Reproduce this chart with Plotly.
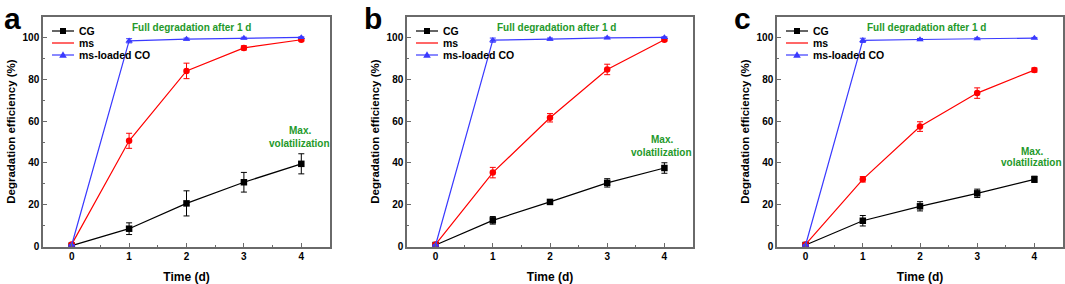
import plotly.graph_objects as go

days = [0, 1, 2, 3, 4]
series_names = ["CG", "ms", "ms-loaded CO"]
panel_labels = ["a", "b", "c"]

# Panel a
a_cg = [0.5, 8.6, 20.7, 30.8, 39.6]
a_cg_err = [0.3, 2.8, 6.0, 4.7, 4.8]
a_ms = [1.1, 50.6, 84.0, 95.0, 98.9]
a_ms_err = [0.3, 3.6, 3.7, 1.0, 0.6]
a_co = [0.8, 98.4, 99.2, 99.7, 100.0]
a_co_err = [0.2, 1.0, 0.5, 0.4, 0.3]

# Panel b
b_cg = [0.8, 12.6, 21.4, 30.5, 37.6]
b_cg_err = [0.3, 1.8, 1.0, 2.0, 2.5]
b_ms = [1.1, 35.4, 61.6, 84.7, 98.9]
b_ms_err = [0.3, 2.5, 2.0, 2.5, 0.6]
b_co = [0.8, 98.7, 99.2, 99.8, 100.0]
b_co_err = [0.2, 1.0, 0.5, 0.4, 0.3]

# Panel c
c_cg = [0.8, 12.4, 19.3, 25.5, 32.2]
c_cg_err = [0.3, 2.5, 2.2, 2.0, 1.5]
c_ms = [1.1, 32.2, 57.4, 73.4, 84.4]
c_ms_err = [0.3, 1.3, 2.3, 2.5, 1.0]
c_co = [0.8, 98.6, 99.0, 99.4, 99.7]
c_co_err = [0.2, 1.0, 0.5, 0.4, 0.3]

panels = [
    [(a_cg, a_cg_err), (a_ms, a_ms_err), (a_co, a_co_err)],
    [(b_cg, b_cg_err), (b_ms, b_ms_err), (b_co, b_co_err)],
    [(c_cg, c_cg_err), (c_ms, c_ms_err), (c_co, c_co_err)],
]

full_text = "Full degradation after 1 d"
full_pos = [(2.08, 104.8), (2.12, 104.8), (2.12, 104.8)]
max_pos = [(3.97, 55.4, 49.5), (3.95, 51.0, 45.0), (3.95, 45.5, 40.0)]

W, H = 1065, 284
colors = ["#000000", "#ff0000", "#3a3aff"]
symbols = ["square", "circle", "triangle-up"]
green = "#24992a"
frame = "#6a6a6a"
FONT = "Liberation Sans, Arial, sans-serif"

x_dom_px = [(43, 330), (407, 693), (777, 1063)]
y_dom = [1 - 246.7 / H, 1 - 16.5 / H]

fig = go.Figure()
layout = dict(
    template="none",
    width=W, height=H,
    margin=dict(l=0, r=0, t=0, b=0),
    paper_bgcolor="white", plot_bgcolor="white",
    font=dict(family=FONT, color="black", size=10, weight="bold"),
    showlegend=False,
    annotations=[], shapes=[],
)

marker_paths = {
    "square": "M-3,-3 L3,-3 L3,3 L-3,3 Z",
    "circle": "M3.3,0 A3.3,3.3 0 1,1 -3.3,0 A3.3,3.3 0 1,1 3.3,0 Z",
    "triangle-up": "M-3.8,-2.8 L3.8,-2.8 L0,3.8 Z",
}

for i, panel in enumerate(panels):
    suffix = "" if i == 0 else str(i + 1)
    xa = "x" + suffix
    ya = "y" + suffix
    for j, (vals, errs) in enumerate(panel):
        fig.add_trace(go.Scatter(
            x=days, y=vals, name=series_names[j],
            xaxis=xa, yaxis=ya,
            mode="lines+markers",
            line=dict(color=colors[j], width=1.2),
            marker=dict(symbol=symbols[j], size=6.5, color=colors[j]),
            error_y=dict(type="data", array=errs, visible=True,
                         color=colors[j], thickness=1, width=3),
            cliponaxis=False,
        ))
    x0, x1 = x_dom_px[i]
    common_axis = dict(
        showline=True, mirror=True, linecolor=frame, linewidth=1.5,
        ticks="inside", tickcolor=frame, ticklen=4, tickwidth=1,
        showgrid=False, zeroline=False, automargin=False,
        tickfont=dict(family=FONT, size=10, color="black", weight="bold"),
    )
    layout["xaxis" + suffix] = dict(
        common_axis, domain=[x0 / W, x1 / W], anchor=ya,
        range=[-0.5, 4.5], tickmode="array", tickvals=days,
        minor=dict(dtick=0.5, tick0=0.5, ticks="inside", ticklen=2, tickcolor=frame),
        title=dict(text="Time (d)", standoff=11,
                   font=dict(family=FONT, size=12, color="black", weight="bold")),
    )
    layout["yaxis" + suffix] = dict(
        common_axis, domain=y_dom, anchor=xa,
        range=[0, 110], dtick=20, tick0=0,
        minor=dict(dtick=10, ticks="inside", ticklen=2, tickcolor=frame),
        title=dict(text="Degradation efficiency (%)", standoff=5,
                   font=dict(family=FONT, size=11.5, color="black", weight="bold")),
    )

    # manual legend (decoration, positioned relative to the panel)
    for j, name in enumerate(series_names):
        ypx = 31 + 12 * j
        yp = 1 - ypx / H
        layout["shapes"].append(dict(
            type="line", xref="paper", yref="paper",
            x0=(x0 + 9) / W, x1=(x0 + 31) / W, y0=yp, y1=yp,
            line=dict(color=colors[j], width=1.2),
        ))
        layout["shapes"].append(dict(
            type="path", xref="paper", yref="paper",
            xsizemode="pixel", ysizemode="pixel",
            xanchor=(x0 + 20) / W, yanchor=yp,
            path=marker_paths[symbols[j]],
            fillcolor=colors[j], line=dict(width=0),
        ))
        layout["annotations"].append(dict(
            x=(x0 + 34) / W, y=yp, xref="paper", yref="paper",
            xanchor="left", yanchor="middle", text=name, showarrow=False,
            font=dict(family=FONT, size=10.5, color="black", weight="bold"),
        ))

    fx, fy = full_pos[i]
    layout["annotations"].append(dict(
        x=fx, y=fy, xref=xa, yref=ya, text=full_text, showarrow=False,
        font=dict(family=FONT, size=10, color=green, weight="bold"),
    ))
    mx, my1, my2 = max_pos[i]
    layout["annotations"].append(dict(
        x=mx, y=my1, xref=xa, yref=ya, text="Max.", showarrow=False,
        font=dict(family=FONT, size=10, color=green, weight="bold"),
    ))
    layout["annotations"].append(dict(
        x=mx, y=my2, xref=xa, yref=ya, text="volatilization", showarrow=False,
        font=dict(family=FONT, size=10, color=green, weight="bold"),
    ))
    label_x = [2, 362, 732][i]
    layout["annotations"].append(dict(
        x=label_x / W, y=1 - 0 / H, xref="paper", yref="paper",
        xanchor="left", yanchor="top", text=panel_labels[i], showarrow=False,
        font=dict(family=FONT, size=30, color="black", weight="bold"),
    ))

fig.update_layout(**layout)
fig.write_html("out.html",
               config={"displayModeBar": False},
               post_script="document.body.style.margin='0';document.body.style.overflow='hidden';")
